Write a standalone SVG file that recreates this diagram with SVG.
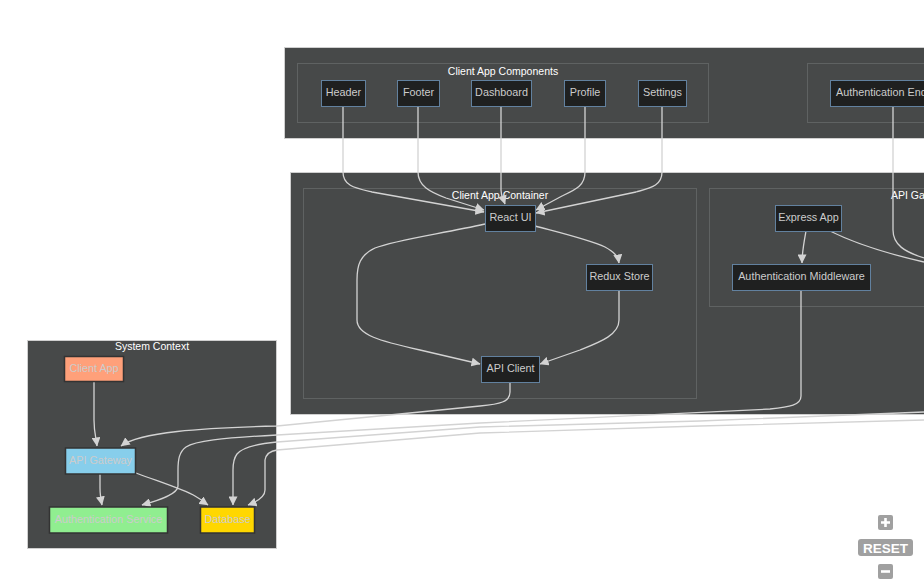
<svg xmlns="http://www.w3.org/2000/svg" width="924" height="588" viewBox="0 0 924 588">
  <defs>
    <style>
      .outer { fill: #474949; stroke: #cfcfcf; stroke-width: 1; }
      .inner { fill: #474949; stroke: #5f6262; stroke-width: 1; }
      .clabel { font-family: "Liberation Sans", Arial, sans-serif; font-size: 10.5px; fill: #ffffff; text-anchor: middle; }
      .node rect { fill: #1f2020; stroke: #62819f; stroke-width: 1; }
      .ntext { font-family: "Liberation Sans", Arial, sans-serif; font-size: 10.8px; fill: #cccccc; text-anchor: middle; }
      .ctx rect { stroke: #333333; stroke-width: 1.5; }
      .edge { fill: none; stroke: #d3d3d3; stroke-width: 1.3; marker-end: url(#arrow); }
      .edge.plain { marker-end: none; }
      .zbtn { fill: #a0a0a0; }
    </style>
    <marker id="arrow" viewBox="0 0 10 10" refX="9.5" refY="5" markerUnits="userSpaceOnUse" markerWidth="9" markerHeight="9" orient="auto">
      <path d="M0,0 L10,5 L0,10 z" fill="#d3d3d3"/>
    </marker>
  </defs>

  <rect width="924" height="588" fill="#ffffff"/>

  <!-- container boxes -->
  <g id="clusters">
    <rect class="outer" x="284.5" y="47.5" width="680" height="91"/>
    <rect class="inner" x="297.5" y="63.5" width="411" height="59"/>
    <text class="clabel" x="503" y="75">Client App Components</text>
    <rect class="inner" x="807.5" y="63.5" width="200" height="59"/>

    <rect class="outer" x="290.5" y="172.5" width="680" height="242"/>
    <rect class="inner" x="303.5" y="188.5" width="393" height="210"/>
    <text class="clabel" x="500" y="199">Client App Container</text>
    <rect class="inner" x="709.5" y="188.5" width="300" height="118"/>
    <text class="clabel" x="891" y="199" style="text-anchor:start">API Gateway Container</text>

    <rect class="outer" x="27.5" y="340.5" width="249" height="208"/>
    <text class="clabel" x="152" y="350">System Context</text>
  </g>

  <!-- connectors -->
  <g id="connectors">
    <path class="edge" d="M343,106 V172 C343,186 355,188 372,192 L484,212"/>
    <path class="edge" d="M418,106 V172 C418,186 430,192 446,198 L484,210"/>
    <path class="edge" d="M501,106 V190 C501,196 503,198 505,204"/>
    <path class="edge" d="M585,106 V172 C585,186 575,190 562,196 L536,210"/>
    <path class="edge" d="M662,106 V172 C662,186 650,188 636,192 L536,213"/>

    <path class="edge" d="M535,226 C565,234 590,240 605,247 C614,252 618,256 619,263"/>
    <path class="edge" d="M485,224 C440,234 395,240 375,248 C360,255 357,265 357,280 V320 C357,335 380,341 420,350 L480,364"/>
    <path class="edge" d="M619,290 V320 C619,335 600,342 580,350 L540,364"/>

    <path class="edge" d="M510,382 V392 C510,402 500,404 480,406 L420,412 L277,426 C200,428 140,432 121,446"/>
    <path class="edge" d="M801,290 V396 C801,405 790,407 770,409 L480,423 L277,435 C220,438 195,441 186,447 C179,452 178,460 178,470 V486 C178,494 160,500 142,505"/>
    <path class="edge" d="M924,412 L700,421 L480,427 L277,442 C255,444 242,448 237,454 C234,458 233,464 233,470 V505"/>
    <path class="edge" d="M924,420 L700,426 L480,433 L277,450 C270,451 266,454 265,460 V490 C265,497 256,502 248,505"/>

    <path class="edge" d="M94,382 V420 C94,432 96,438 97,446"/>
    <path class="edge" d="M100,474 V488 C100,495 101,500 102,505"/>
    <path class="edge" d="M136,473 C160,482 185,490 195,496 C202,500 205,503 208,505"/>

    <path class="edge" d="M806,231 C804,242 802,252 802,263"/>
    <path class="edge plain" d="M830,231 C850,241 880,252 924,262"/>
    <path class="edge plain" d="M893,106 V230 C893,245 905,252 924,258"/>
  </g>

  <!-- component nodes -->
  <g id="header" class="node"><rect x="321.5" y="80.5" width="44" height="26"/><text class="ntext" x="343.5" y="95.5">Header</text></g>
  <g id="footer" class="node"><rect x="397.5" y="80.5" width="42" height="26"/><text class="ntext" x="418.5" y="95.5">Footer</text></g>
  <g id="dashboard" class="node"><rect x="471.5" y="80.5" width="60" height="26"/><text class="ntext" x="501.5" y="95.5">Dashboard</text></g>
  <g id="profile" class="node"><rect x="564.5" y="80.5" width="41" height="26"/><text class="ntext" x="585" y="95.5">Profile</text></g>
  <g id="settings" class="node"><rect x="638.5" y="80.5" width="48" height="26"/><text class="ntext" x="662.5" y="95.5">Settings</text></g>
  <g id="auth-endpoints" class="node"><rect x="830.5" y="80.5" width="140" height="26"/><text class="ntext" x="836" y="95.5" style="text-anchor:start">Authentication Endpoints</text></g>

  <g id="react-ui" class="node"><rect x="485.5" y="205.5" width="50" height="26"/><text class="ntext" x="510.5" y="220.5">React UI</text></g>
  <g id="redux-store" class="node"><rect x="586.5" y="264.5" width="66" height="26"/><text class="ntext" x="619.5" y="279.5">Redux Store</text></g>
  <g id="api-client" class="node"><rect x="481.5" y="356.5" width="58" height="26"/><text class="ntext" x="510.5" y="371.5">API Client</text></g>
  <g id="express-app" class="node"><rect x="775.5" y="205.5" width="66" height="26"/><text class="ntext" x="808.5" y="220.5">Express App</text></g>
  <g id="auth-middleware" class="node"><rect x="732.5" y="264.5" width="138" height="26"/><text class="ntext" x="801.5" y="279.5">Authentication Middleware</text></g>

  <!-- system context nodes -->
  <g id="ctx-client-app" class="ctx"><rect x="64.5" y="356.5" width="59" height="25" fill="#ffa07a"/><text class="ntext" x="94" y="371.5">Client App</text></g>
  <g id="ctx-api-gateway" class="ctx"><rect x="65.5" y="448" width="70" height="26" fill="#87ceeb"/><text class="ntext" x="100.5" y="463.5">API Gateway</text></g>
  <g id="ctx-auth-service" class="ctx"><rect x="49.5" y="507" width="118" height="26" fill="#90ee90"/><text class="ntext" x="108.5" y="522.5">Authentication Service</text></g>
  <g id="ctx-database" class="ctx"><rect x="200.5" y="507" width="54" height="26" fill="#ffd700"/><text class="ntext" x="227.5" y="522.5">Database</text></g>

  <!-- zoom controls -->
  <g id="zoom-controls">
    <rect class="zbtn" x="878" y="515" width="15" height="15" rx="2"/>
    <path d="M885.5,518 V527 M881,522.5 H890" stroke="#ffffff" stroke-width="2.6"/>
    <rect class="zbtn" x="858" y="539" width="55" height="17" rx="3"/>
    <text x="885.5" y="552.5" font-family="Liberation Sans, Arial, sans-serif" font-size="13.5" font-weight="bold" fill="#ffffff" text-anchor="middle">RESET</text>
    <rect class="zbtn" x="878" y="564" width="15" height="15" rx="2"/>
    <path d="M881,571.5 H890" stroke="#ffffff" stroke-width="2.6"/>
  </g>
</svg>
